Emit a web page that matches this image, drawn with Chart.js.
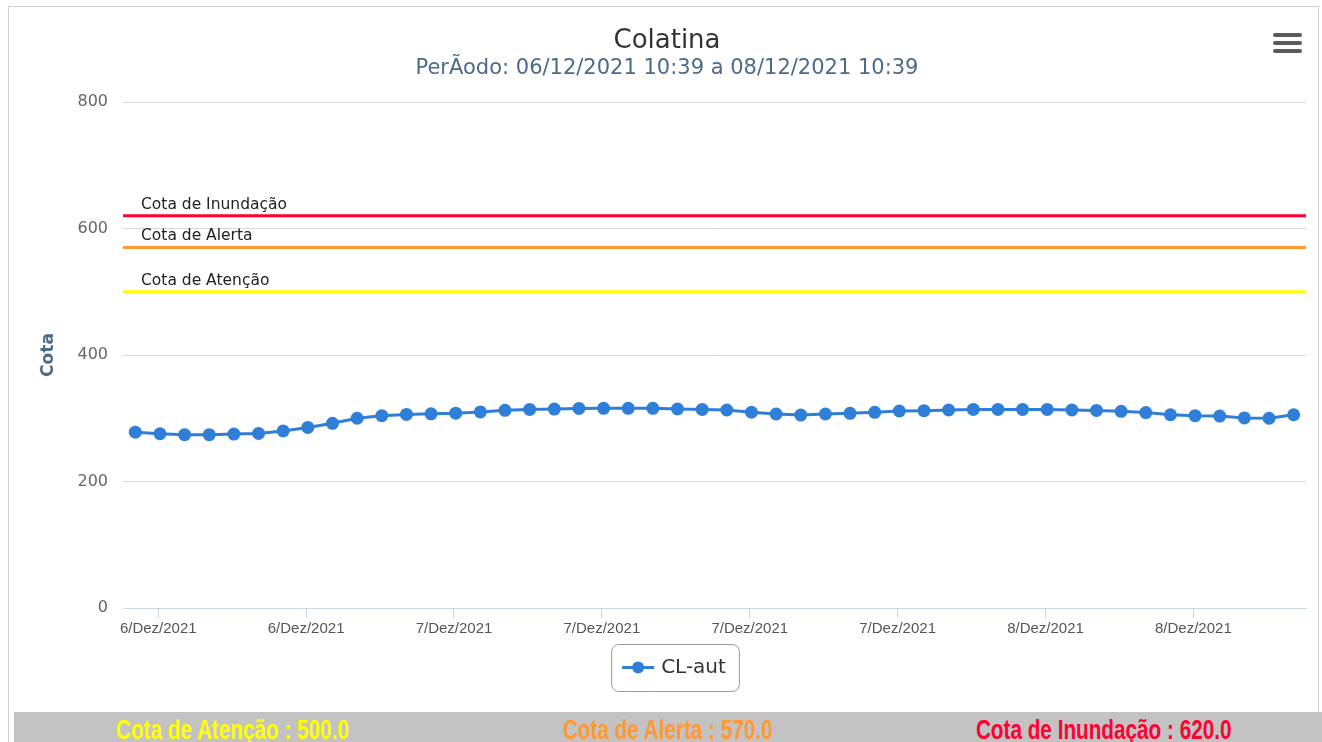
<!DOCTYPE html>
<html>
<head>
<meta charset="utf-8">
<script src="https://cdn.jsdelivr.net/npm/chart.js@4"></script>
<style>
  html, body { margin: 0; padding: 0; background: #fff; }
  body { width: 1322px; height: 742px; position: relative; overflow: hidden; }
  #moldura { position: absolute; left: 8px; top: 6px; width: 1311px; height: 760px; border: 1px solid #cfcfcf; box-sizing: border-box; pointer-events: none; }
  #grafico { position: absolute; left: 0; top: 0; width: 1322px; height: 712px; }
  #menu { position: absolute; left: 1273px; top: 33px; width: 29px; }
  #menu div { height: 4px; background: #5a5a5a; border-radius: 2px; margin-bottom: 4px; }
  #cotas { position: absolute; left: 14px; top: 712px; width: 1308px; height: 30px; background: #c3c3c3; display: flex; overflow: hidden; }
  #cotas div { flex: 1; text-align: center; font: bold 28px "Liberation Sans", Arial, sans-serif; line-height: 32px; white-space: nowrap; }
  #cotas span { display: inline-block; transform: scaleX(0.74); transform-origin: center; margin-top: 2px; }
</style>
</head>
<body>
<div id="grafico"><canvas id="Canvas" width="1322" height="712"></canvas></div>
<div id="moldura"></div>
<div id="menu"><div></div><div></div><div></div></div>
<div id="cotas"></div>

<script>
// Colatina - cota do rio (CL-aut), leituras de hora em hora
let horas = [];
let cota = [278, 275.5, 274, 274, 275, 276, 280, 285.5, 292, 300, 304, 306,
  307, 308, 310, 312.5, 314, 314.5, 315.5, 315.7, 315.7, 315.7, 314.6, 314,
  313, 309.5, 306.7, 305, 306.7, 307.8, 309.4, 311.5, 312, 313, 314, 314,
  314, 314, 313, 312.4, 311, 309, 305.5, 304, 303.5, 300.5, 300, 305.5];
for (let i = 0; i < cota.length; i++) horas.push(i);

let ticksHoras = [0.93, 6.93, 12.93, 18.93, 24.93, 30.93, 36.93, 42.93];
let ticksLabels = ["6/Dez/2021", "6/Dez/2021", "7/Dez/2021", "7/Dez/2021",
  "7/Dez/2021", "7/Dez/2021", "8/Dez/2021", "8/Dez/2021"];

let cotasNomes = ["Cota de Atenção", "Cota de Alerta", "Cota de Inundação"];
let cotasValores = [500, 570, 620];
let cotasCores = ["#ffff00", "#ff9933", "#ff0033"];

let titulo = "Colatina";
let subtitulo = "PerÃodo: 06/12/2021 10:39 a 08/12/2021 10:39";

// barra de baixo
let barra = document.getElementById("cotas");
cotasNomes.forEach(function (nome, i) {
  let d = document.createElement("div");
  d.style.color = cotasCores[i];
  d.innerHTML = "<span>" + nome + " : " + cotasValores[i].toFixed(1) + "</span>";
  barra.appendChild(d);
});

const linhasCota = {
  id: "linhasCota",
  beforeDatasetsDraw(chart) {
    let ctx = chart.ctx;
    let y = chart.scales.y;
    let area = chart.chartArea;
    ctx.save();
    for (let i = 0; i < cotasValores.length; i++) {
      let py = y.getPixelForValue(cotasValores[i]);
      ctx.strokeStyle = cotasCores[i];
      ctx.lineWidth = 3;
      ctx.beginPath();
      ctx.moveTo(area.left, py);
      ctx.lineTo(area.right, py);
      ctx.stroke();
      ctx.fillStyle = "#222";
      ctx.font = "15.5px 'DejaVu Sans'";
      ctx.textAlign = "left";
      ctx.textBaseline = "alphabetic";
      ctx.fillText(cotasNomes[i], area.left + 18, py - 7);
    }
    ctx.restore();
  }
};

const titulos = {
  id: "titulos",
  afterDraw(chart) {
    let ctx = chart.ctx;
    let cx = chart.width / 2 + 6;
    ctx.save();
    ctx.textAlign = "center";
    ctx.textBaseline = "middle";
    ctx.fillStyle = "#333333";
    ctx.font = "26px 'DejaVu Sans'";
    ctx.fillText(titulo, cx, 41);
    ctx.fillStyle = "#4d6a8a";
    ctx.font = "21px 'DejaVu Sans'";
    ctx.fillText(subtitulo, cx, 69);

    // legenda
    let ds = chart.data.datasets[0];
    ctx.font = "20px 'DejaVu Sans'";
    let tw = ctx.measureText(ds.label).width;
    let w = 11 + 32 + 7 + tw + 13;
    let h = 47;
    let x0 = chart.width / 2 + 14 - w / 2;
    let y0 = 644;
    ctx.strokeStyle = "#999";
    ctx.lineWidth = 1;
    ctx.beginPath();
    ctx.roundRect(x0 + 0.5, y0 + 0.5, w, h, 7);
    ctx.stroke();
    let my = y0 + h / 2;
    ctx.strokeStyle = ds.borderColor;
    ctx.lineWidth = 3;
    ctx.beginPath();
    ctx.moveTo(x0 + 11, my);
    ctx.lineTo(x0 + 43, my);
    ctx.stroke();
    ctx.fillStyle = ds.backgroundColor;
    ctx.beginPath();
    ctx.arc(x0 + 27, my, 6, 0, Math.PI * 2);
    ctx.fill();
    ctx.fillStyle = "#333";
    ctx.textAlign = "left";
    ctx.fillText(ds.label, x0 + 50, my);
    ctx.restore();
  }
};

let ctx = document.getElementById("Canvas").getContext("2d");

new Chart(ctx, {
  type: "line",
  data: {
    datasets: [{
      label: "CL-aut",
      data: horas.map(function (h, i) { return { x: h, y: cota[i] }; }),
      borderColor: "#2f7ed8",
      backgroundColor: "#2f7ed8",
      borderWidth: 3,
      pointRadius: 6.5,
      pointHoverRadius: 7,
      pointBackgroundColor: "#2f7ed8",
      pointBorderWidth: 0,
      tension: 0
    }]
  },
  options: {
    responsive: false,
    animation: false,
    layout: { padding: { top: 102, right: 16, left: 0, bottom: 0 } },
    plugins: {
      legend: { display: false },
      title: { display: false },
      tooltip: { enabled: false }
    },
    scales: {
      x: {
        type: "linear",
        min: -0.5,
        max: 47.5,
        afterFit: function (s) { s.height = 104; },
        afterBuildTicks: function (s) {
          s.ticks = ticksHoras.map(function (v) { return { value: v }; });
        },
        grid: { drawOnChartArea: false, drawTicks: true, tickLength: 10, color: "#ccd6eb" },
        border: { color: "#ccd6eb", width: 1 },
        ticks: {
          autoSkip: false,
          maxRotation: 0,
          padding: 2,
          color: "#555",
          font: { family: "'Liberation Sans', Arial", size: 15 },
          callback: function (v, i) { return ticksLabels[i]; }
        }
      },
      y: {
        min: 0,
        max: 800,
        afterFit: function (s) { s.width = 123; },
        grid: { color: "#d8d8d8", drawTicks: false },
        border: { display: false },
        ticks: {
          stepSize: 200,
          padding: 15,
          color: "#666",
          font: { family: "'DejaVu Sans'", size: 16 }
        },
        title: {
          display: true,
          text: "Cota",
          color: "#4d6a8a",
          font: { family: "'DejaVu Sans'", size: 17, weight: "bold" },
          padding: { top: 38, bottom: 0 }
        }
      }
    }
  },
  plugins: [linhasCota, titulos]
});
</script>
</body>
</html>
